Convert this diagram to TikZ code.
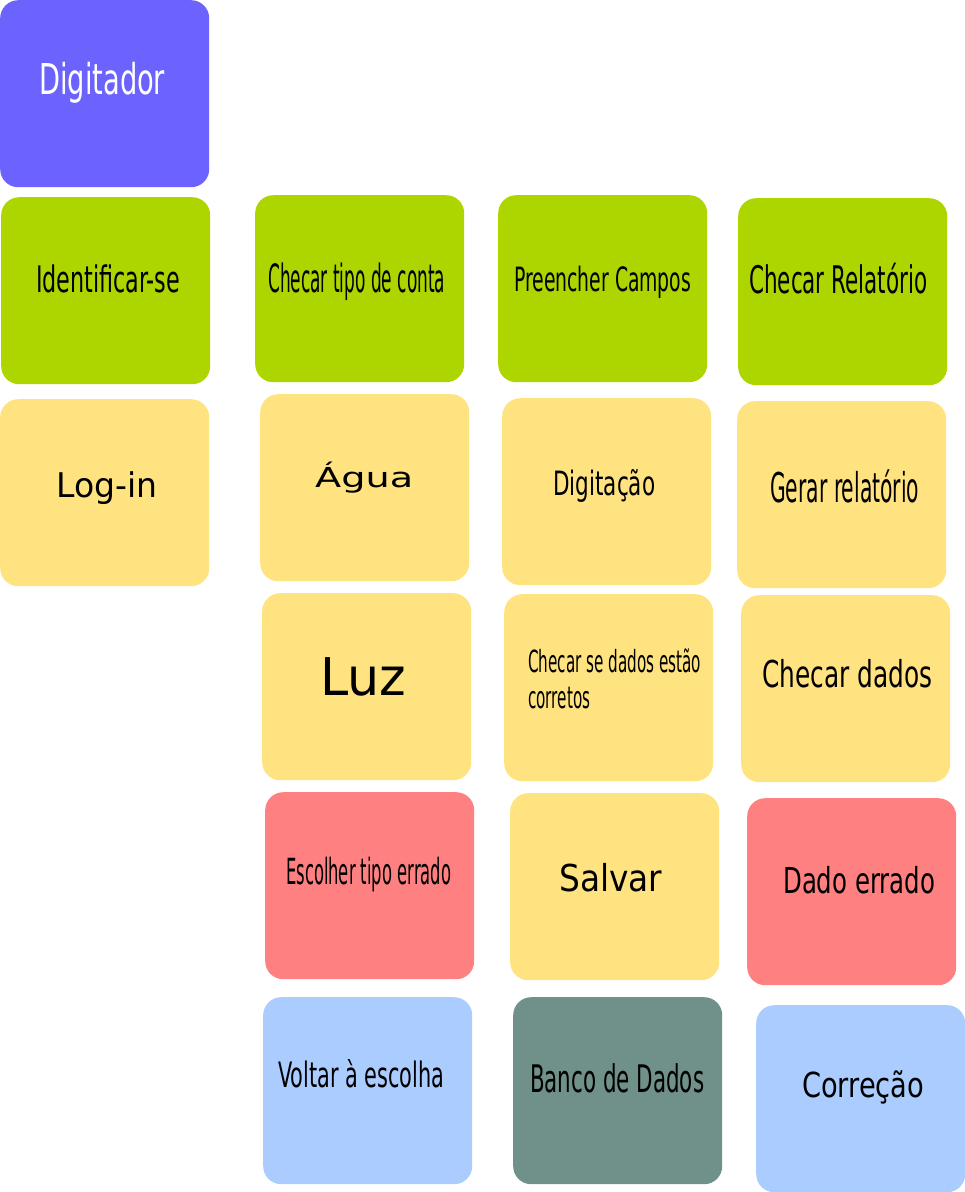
\documentclass[tikz,border=0pt]{standalone}
\usepackage{fontspec}
\usepackage{graphicx}
\usepackage{xcolor}
\setmainfont{DejaVu Sans}
\newfontfamily\condfont{DejaVu Sans Condensed}

\definecolor{roxo}{HTML}{6C63FF}
\definecolor{verde}{HTML}{ADD500}
\definecolor{amarelo}{HTML}{FFE380}
\definecolor{vermelho}{HTML}{FF8080}
\definecolor{azul}{HTML}{AACCFF}
\definecolor{petroleo}{HTML}{6F918A}

% text at a given size, squeezed to a given width
\newcommand{\fitw}[3]{\resizebox{#1pt}{\height}{\fontsize{#2pt}{#2pt}\selectfont #3}}

\begin{document}
\begin{tikzpicture}[x=1pt, y=-1pt,
  card/.style={rounded corners=18pt, minimum width=209pt, minimum height=187pt,
    anchor=north west, inner sep=0pt},
  lbl/.style={anchor=base west, inner sep=0pt, font=\condfont},
  wide/.style={anchor=base west, inner sep=0pt}]
\useasboundingbox (0,0) rectangle (965,1192);
% actor
\node[card, fill=roxo] (dig) at (0,0) {};
\node[lbl, text=white] (t-dig) at (39,94) {\fitw{126}{42.5}{Digitador}};
% green row: the steps
\node[card, fill=verde] (ident) at (1,197) {};
\node[lbl] (t-ident) at (36,292) {\fitw{144}{36.5}{Identificar-se}};
\node[card, fill=verde] (chectipo) at (255,195) {};
\node[lbl] (t-chectipo) at (268,292) {\fitw{177}{39}{Checar tipo de conta}};
\node[card, fill=verde] (preench) at (498,195) {};
\node[lbl] (t-preench) at (514,291) {\fitw{177}{33.5}{Preencher Campos}};
\node[card, fill=verde] (checrel) at (738,198) {};
\node[lbl] (t-checrel) at (749,293) {\fitw{178}{38}{Checar Relatório}};
% yellow tasks
\node[card, fill=amarelo] (login) at (0,399) {};
\node[wide] (t-login) at (56,497) {\fitw{101}{34}{Log-in}};
\node[card, fill=amarelo] (agua) at (260,394) {};
\node[wide] (t-agua) at (315,487) {\fitw{98}{27.5}{Água}};
\node[card, fill=amarelo] (digit) at (502,398) {};
\node[lbl] (t-digit) at (553,495) {\fitw{102}{33.5}{Digitação}};
\node[card, fill=amarelo] (gerar) at (737,401) {};
\node[lbl] (t-gerar) at (770,502) {\fitw{149}{41}{Gerar relatório}};
\node[card, fill=amarelo] (luz) at (262,593) {};
\node[wide] (t-luz) at (320,695) {\fitw{86}{52}{Luz}};
\node[card, fill=amarelo] (checse) at (504,594) {};
\node[lbl] (t-checse) at (528,672) {\fitw{173}{30.5}{Checar se dados estão}};
\node[lbl] (t-checse2) at (528,708) {\fitw{62}{30.5}{corretos}};
\node[card, fill=amarelo] (checdad) at (741,595) {};
\node[lbl] (t-checdad) at (762,687) {\fitw{170}{37}{Checar dados}};
% errors
\node[card, fill=vermelho] (escolher) at (265,792) {};
\node[lbl] (t-escolher) at (286,884) {\fitw{165}{36}{Escolher tipo errado}};
\node[card, fill=amarelo] (salvar) at (510,793) {};
\node[lbl] (t-salvar) at (559,891) {\fitw{103}{37}{Salvar}};
\node[card, fill=vermelho] (dadoerr) at (747,798) {};
\node[lbl] (t-dadoerr) at (783,893) {\fitw{152}{35.7}{Dado errado}};
% last row
\node[card, fill=azul] (voltar) at (263,997) {};
\node[lbl] (t-voltar) at (278,1087) {\fitw{166}{35}{Voltar à escolha}};
\node[card, fill=petroleo] (banco) at (513,997) {};
\node[lbl] (t-banco) at (530,1092) {\fitw{174}{38}{Banco de Dados}};
\node[card, fill=azul] (correcao) at (756,1005) {};
\node[lbl] (t-correcao) at (802,1097) {\fitw{122}{34.5}{Correção}};
\end{tikzpicture}
\end{document}
